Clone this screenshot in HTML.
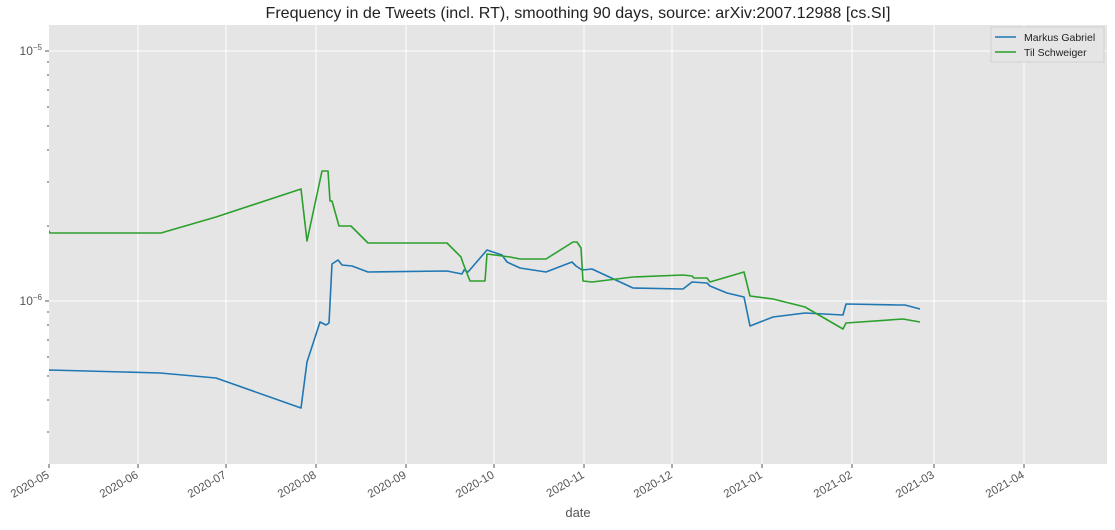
<!DOCTYPE html>
<html><head><meta charset="utf-8"><style>
body{margin:0;background:#fff;}
svg text{font-family:"Liberation Sans","DejaVu Sans",sans-serif;}
</style></head><body>
<svg width="1115" height="525" xmlns="http://www.w3.org/2000/svg">
<rect width="1115" height="525" fill="#fff"/>
<rect x="49" y="25" width="1058" height="439" fill="#e5e5e5"/>
<g stroke="#fff" stroke-width="1">
<line x1="49" y1="51" x2="1107" y2="51"/>
<line x1="49" y1="301" x2="1107" y2="301"/>
<line x1="138" y1="25" x2="138" y2="464"/>
<line x1="226" y1="25" x2="226" y2="464"/>
<line x1="316" y1="25" x2="316" y2="464"/>
<line x1="406" y1="25" x2="406" y2="464"/>
<line x1="494" y1="25" x2="494" y2="464"/>
<line x1="584" y1="25" x2="584" y2="464"/>
<line x1="672" y1="25" x2="672" y2="464"/>
<line x1="762" y1="25" x2="762" y2="464"/>
<line x1="852" y1="25" x2="852" y2="464"/>
<line x1="934" y1="25" x2="934" y2="464"/>
<line x1="1024" y1="25" x2="1024" y2="464"/>
</g>
<g stroke="#555" stroke-width="1">
<line x1="45" y1="51" x2="49" y2="51"/><line x1="45" y1="301" x2="49" y2="301"/>
<line x1="47" y1="62" x2="49" y2="62"/><line x1="47" y1="75" x2="49" y2="75"/><line x1="47" y1="90" x2="49" y2="90"/><line x1="47" y1="107" x2="49" y2="107"/><line x1="47" y1="126" x2="49" y2="126"/><line x1="47" y1="150" x2="49" y2="150"/><line x1="47" y1="182" x2="49" y2="182"/><line x1="47" y1="226" x2="49" y2="226"/>
<line x1="47" y1="312" x2="49" y2="312"/><line x1="47" y1="325" x2="49" y2="325"/><line x1="47" y1="340" x2="49" y2="340"/><line x1="47" y1="357" x2="49" y2="357"/><line x1="47" y1="376" x2="49" y2="376"/><line x1="47" y1="400" x2="49" y2="400"/><line x1="47" y1="432" x2="49" y2="432"/>
</g>
<g stroke="#555" stroke-width="1">
<line x1="49" y1="464" x2="49" y2="468"/><line x1="138" y1="464" x2="138" y2="468"/><line x1="226" y1="464" x2="226" y2="468"/><line x1="316" y1="464" x2="316" y2="468"/><line x1="406" y1="464" x2="406" y2="468"/><line x1="494" y1="464" x2="494" y2="468"/><line x1="584" y1="464" x2="584" y2="468"/><line x1="672" y1="464" x2="672" y2="468"/><line x1="762" y1="464" x2="762" y2="468"/><line x1="852" y1="464" x2="852" y2="468"/><line x1="934" y1="464" x2="934" y2="468"/><line x1="1024" y1="464" x2="1024" y2="468"/>
</g>
<g font-size="12" fill="#555">
<text x="42" y="55" text-anchor="end">10<tspan dy="-5" font-size="8">−5</tspan></text>
<text x="42" y="305" text-anchor="end">10<tspan dy="-5" font-size="8">−6</tspan></text>
</g>
<g font-size="11.5" fill="#555" text-anchor="end">
<text transform="translate(50,477) rotate(-30)">2020-05</text>
<text transform="translate(139,477) rotate(-30)">2020-06</text>
<text transform="translate(227,477) rotate(-30)">2020-07</text>
<text transform="translate(317,477) rotate(-30)">2020-08</text>
<text transform="translate(407,477) rotate(-30)">2020-09</text>
<text transform="translate(495,477) rotate(-30)">2020-10</text>
<text transform="translate(585,477) rotate(-30)">2020-11</text>
<text transform="translate(673,477) rotate(-30)">2020-12</text>
<text transform="translate(763,477) rotate(-30)">2021-01</text>
<text transform="translate(853,477) rotate(-30)">2021-02</text>
<text transform="translate(935,477) rotate(-30)">2021-03</text>
<text transform="translate(1025,477) rotate(-30)">2021-04</text>
</g>
<text x="578" y="517" font-size="13" fill="#555" text-anchor="middle">date</text>
<text x="578" y="18" font-size="16" fill="#222" text-anchor="middle" textLength="625" lengthAdjust="spacingAndGlyphs">Frequency in de Tweets (incl. RT), smoothing 90 days, source: arXiv:2007.12988 [cs.SI]</text>
<svg x="49" y="25" width="1058" height="439" viewBox="49 25 1058 439">
<polyline fill="none" stroke="#1f77b4" stroke-width="1.6" stroke-linejoin="round" points="47,371 49,370 160,373 216,378 301,408 307,362 320,322 326,325 329,323 332,264 338,260 342,265 352,266 368,272 447,271 462,274 464,270 468,272 487,250 502,255 507,262 520,268 546,272 572,262 576,266 582,270 592,269 633,288 683,289 692,282 707,283 710,286 727,293 744,297 750,326 773,317 805,313 843,315 846,304 898,305 905,305 920,309"/>
<polyline fill="none" stroke="#2ca02c" stroke-width="1.6" stroke-linejoin="round" points="47,228 50,233 161,233 216,217 301,189 307,241 322,171 328,171 330,201 332,201 339,226 351,226 368,243 447,243 461,257 463,263 470,281 485,281 487,254 510,257 520,259 546,259 573,242 577,242 581,248 583,281 592,282 633,277 683,275 692,276 694,278 707,278 710,282 744,272 750,296 773,299 805,307 843,329 846,323 903,319 920,322"/>
</svg>
<rect x="991" y="27" width="113" height="35" fill="#e5e5e5" stroke="#ccc" stroke-width="0.8"/>
<line x1="995" y1="37" x2="1016" y2="37" stroke="#1f77b4" stroke-width="1.6"/>
<line x1="995" y1="52" x2="1016" y2="52" stroke="#2ca02c" stroke-width="1.6"/>
<g font-size="10.5" fill="#222">
<text x="1024" y="41">Markus Gabriel</text>
<text x="1024" y="56">Til Schweiger</text>
</g>
</svg>
</body></html>
